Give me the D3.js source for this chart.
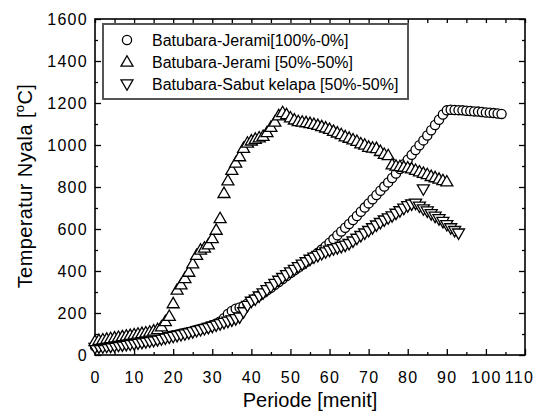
<!DOCTYPE html>
<html lang="id">
<head>
    <meta charset="UTF-8">
    <title>Temperatur Nyala</title>
    <script src="https://cdn.jsdelivr.net/npm/d3@7/dist/d3.min.js"></script>
    <style>
        body { margin: 0; background: #fff; }
        svg { display: block; font-family: Arial, "Liberation Sans", sans-serif; }
        .axis text { font-size: 16px; letter-spacing: 1.3px; fill: #000; }
        .axis line { stroke: #000; stroke-width: 1.3; }
        .axis path { display: none; }
    </style>
</head>
<body>
<script>
    // menit (sumbu x)
    const menit = [
        0, 1, 2, 3, 4, 5, 6, 7, 8, 9, 10, 11, 12, 13, 14, 15, 16, 17, 18, 19, 20,
        21, 22, 23, 24, 25, 26, 27, 28, 29, 30, 31, 32, 33, 34, 35, 36, 37, 38, 39, 40,
        41, 42, 43, 44, 45, 46, 47, 48, 49, 50, 51, 52, 53, 54, 55, 56, 57, 58, 59, 60,
        61, 62, 63, 64, 65, 66, 67, 68, 69, 70, 71, 72, 73, 74, 75, 76, 77, 78, 79, 80,
        81, 82, 83, 84, 85, 86, 87, 88, 89, 90, 91, 92, 93, 94, 95, 96, 97, 98, 99, 100,
        101, 102, 103, 104
    ];

    // Batubara-Jerami [100%-0%]
    const suhuJerami100 = [
        40, 42, 44, 45, 47, 49, 51, 53, 55, 58, 60, 63, 66, 69, 72, 75, 78, 82, 86, 90, 94,
        98, 102, 106, 110, 115, 120, 125, 130, 136, 142, 150, 160, 175, 195, 210, 220, 226, 232, 245, 258,
        270, 282, 295, 308, 320, 334, 348, 362, 376, 390, 403, 416, 430, 443, 457, 472, 487, 502, 518, 535,
        552, 570, 588, 606, 624, 643, 662, 682, 702, 722, 742, 762, 782, 802, 822, 843, 864, 886, 908, 930,
        953, 976, 999, 1022, 1045, 1070, 1095, 1120, 1145, 1165, 1168, 1167, 1166, 1165, 1163, 1162, 1160, 1159, 1157, 1155,
        1154, 1152, 1150, 1148
    ];

    // Batubara-Jerami [50%-50%]
    const suhuJerami50 = [
        65, 70, 73, 76, 79, 82, 85, 88, 91, 94, 97, 100, 103, 106, 110, 115, 122, 135, 160, 185, 245,
        310, 335, 365, 395, 435, 475, 500, 510, 525, 555, 595, 650, 770, 830, 880, 915, 945, 985, 1010, 1020,
        1028, 1035, 1042, 1060, 1085, 1110, 1140, 1155, 1145, 1130, 1120, 1112, 1110, 1107, 1103, 1099, 1094, 1088, 1082, 1075,
        1066, 1058, 1050, 1040, 1033, 1025, 1018, 1006, 1000, 990, 986, 984, 970, 956, 950, 906, 900, 898, 895, 892,
        887, 880, 873, 866, 860, 851, 845, 838, 831, 825
    ];

    // Batubara-Sabut kelapa [50%-50%]
    const suhuSabut = [
        35, 37, 38, 40, 41, 43, 45, 47, 49, 51, 53, 56, 59, 62, 65, 68, 72, 76, 80, 84, 88,
        92, 96, 100, 105, 110, 115, 120, 125, 130, 136, 142, 148, 154, 160, 166, 172, 180, 205, 235, 255,
        265, 280, 295, 310, 325, 340, 355, 368, 382, 395, 407, 420, 432, 443, 455, 465, 473, 482, 490, 498,
        505, 510, 516, 522, 530, 542, 555, 568, 580, 592, 605, 618, 630, 642, 652, 662, 674, 686, 698, 710,
        718, 722, 708, 695, 685, 672, 660, 648, 635, 620, 605, 592, 580
    ];
    // titik terpisah Sabut kelapa
    const menitSabutLain = [84];
    const suhuSabutLain = [790];

    const xTicks = [0, 10, 20, 30, 40, 50, 60, 70, 80, 90, 100, 110];
    const yTicks = [0, 200, 400, 600, 800, 1000, 1200, 1400, 1600];
    const xMinor = [5, 15, 25, 35, 45, 55, 65, 75, 85, 95, 105];
    const yMinor = [100, 300, 500, 700, 900, 1100, 1300, 1500];

    const legendLabels = [
        'Batubara-Jerami[100%-0%]',
        'Batubara-Jerami [50%-50%]',
        'Batubara-Sabut kelapa [50%-50%]'
    ];

    const width = 538, height = 414;
    const plotLeft = 95, plotRight = 525, plotTop = 19, plotBottom = 355;

    const svg = d3.select('body').append('svg')
        .attr('width', width)
        .attr('height', height);

    const x = d3.scaleLinear().domain([0, 110]).range([plotLeft, plotRight]);
    const y = d3.scaleLinear().domain([0, 1600]).range([plotBottom, plotTop]);

    // sumbu dengan tick ke dalam
    const xAxisG = svg.append('g').attr('class', 'axis')
        .attr('transform', `translate(0,${plotBottom})`)
        .call(d3.axisBottom(x).tickValues(xTicks).tickFormat(d3.format('d'))
            .tickSizeInner(-6).tickSizeOuter(0).tickPadding(17));
    // label terakhir digeser agar tetap di dalam gambar
    xAxisG.selectAll('.tick text').filter(d => d === 110).attr('dx', -6);

    svg.append('g').attr('class', 'axis')
        .attr('transform', `translate(0,${plotBottom})`)
        .call(d3.axisBottom(x).tickValues(xMinor).tickSizeInner(-3).tickSizeOuter(0).tickFormat(''));
    svg.append('g').attr('class', 'axis')
        .attr('transform', `translate(${plotLeft},0)`)
        .call(d3.axisLeft(y).tickValues(yTicks).tickFormat(d3.format('d'))
            .tickSizeInner(-6).tickSizeOuter(0).tickPadding(7));
    svg.append('g').attr('class', 'axis')
        .attr('transform', `translate(${plotLeft},0)`)
        .call(d3.axisLeft(y).tickValues(yMinor).tickSizeInner(-3).tickSizeOuter(0).tickFormat(''));
    svg.append('g').attr('class', 'axis')
        .attr('transform', `translate(0,${plotTop})`)
        .call(d3.axisTop(x).tickValues(xTicks.concat(xMinor)).tickSizeInner(-4).tickSizeOuter(0).tickFormat(''));
    svg.append('g').attr('class', 'axis')
        .attr('transform', `translate(${plotRight},0)`)
        .call(d3.axisRight(y).tickValues(yTicks).tickSizeInner(-6).tickSizeOuter(0).tickFormat(''));
    svg.append('g').attr('class', 'axis')
        .attr('transform', `translate(${plotRight},0)`)
        .call(d3.axisRight(y).tickValues(yMinor).tickSizeInner(-3).tickSizeOuter(0).tickFormat(''));

    svg.append('rect')
        .attr('x', plotLeft).attr('y', plotTop)
        .attr('width', plotRight - plotLeft).attr('height', plotBottom - plotTop)
        .attr('fill', 'none').attr('stroke', '#000').attr('stroke-width', 1.6);

    // judul sumbu
    svg.append('text')
        .attr('x', (plotLeft + plotRight) / 2).attr('y', 407)
        .attr('text-anchor', 'middle')
        .style('font-size', '20px')
        .text('Periode [menit]');

    const yTitle = svg.append('text')
        .attr('transform', `translate(32,${(plotTop + plotBottom) / 2 - 1}) rotate(-90)`)
        .attr('text-anchor', 'middle')
        .style('font-size', '20px')
        .style('letter-spacing', '0.4px');
    yTitle.append('tspan').text('Temperatur Nyala [');
    yTitle.append('tspan').attr('dy', -8).style('font-size', '13px').text('o');
    yTitle.append('tspan').attr('dy', 8).text('C]');

    // simbol
    const triUp = 'M0,-6.2L6,4.2L-6,4.2Z';
    const triDown = 'M0,6.2L6,-4.2L-6,-4.2Z';

    const dataJerami100 = suhuJerami100.map((v, i) => [menit[i], v]);
    const dataJerami50 = suhuJerami50.map((v, i) => [menit[i], v]);
    const dataSabut = suhuSabut.map((v, i) => [menit[i], v])
        .concat(suhuSabutLain.map((v, i) => [menitSabutLain[i], v]));

    svg.append('g').selectAll('circle')
        .data(dataJerami100)
        .enter().append('circle')
        .attr('cx', d => x(d[0]))
        .attr('cy', d => y(d[1]))
        .attr('r', 4.6)
        .attr('fill', '#fff').attr('stroke', '#000').attr('stroke-width', 1.3);

    svg.append('g').selectAll('path')
        .data(dataSabut)
        .enter().append('path')
        .attr('d', triDown)
        .attr('transform', d => `translate(${x(d[0])},${y(d[1])})`)
        .attr('fill', '#fff').attr('stroke', '#000').attr('stroke-width', 1.3);

    svg.append('g').selectAll('path')
        .data(dataJerami50)
        .enter().append('path')
        .attr('d', triUp)
        .attr('transform', d => `translate(${x(d[0])},${y(d[1])})`)
        .attr('fill', '#fff').attr('stroke', '#000').attr('stroke-width', 1.3);

    // legenda
    const legend = svg.append('g');
    legend.append('rect')
        .attr('x', 103).attr('y', 24).attr('width', 305).attr('height', 75)
        .attr('fill', '#fff').attr('stroke', '#555').attr('stroke-width', 2);

    const rowY = [40, 62, 84];
    legend.append('circle')
        .attr('cx', 127).attr('cy', rowY[0]).attr('r', 4.6)
        .attr('fill', '#fff').attr('stroke', '#000').attr('stroke-width', 1.3);
    legend.append('path').attr('d', triUp)
        .attr('transform', `translate(127,${rowY[1]})`)
        .attr('fill', '#fff').attr('stroke', '#000').attr('stroke-width', 1.3);
    legend.append('path').attr('d', triDown)
        .attr('transform', `translate(127,${rowY[2]})`)
        .attr('fill', '#fff').attr('stroke', '#000').attr('stroke-width', 1.3);

    legend.selectAll('text')
        .data(legendLabels)
        .enter().append('text')
        .attr('x', 152)
        .attr('y', (d, i) => rowY[i] + 6)
        .style('font-size', '16px')
        .text(d => d);
</script>
</body>
</html>
